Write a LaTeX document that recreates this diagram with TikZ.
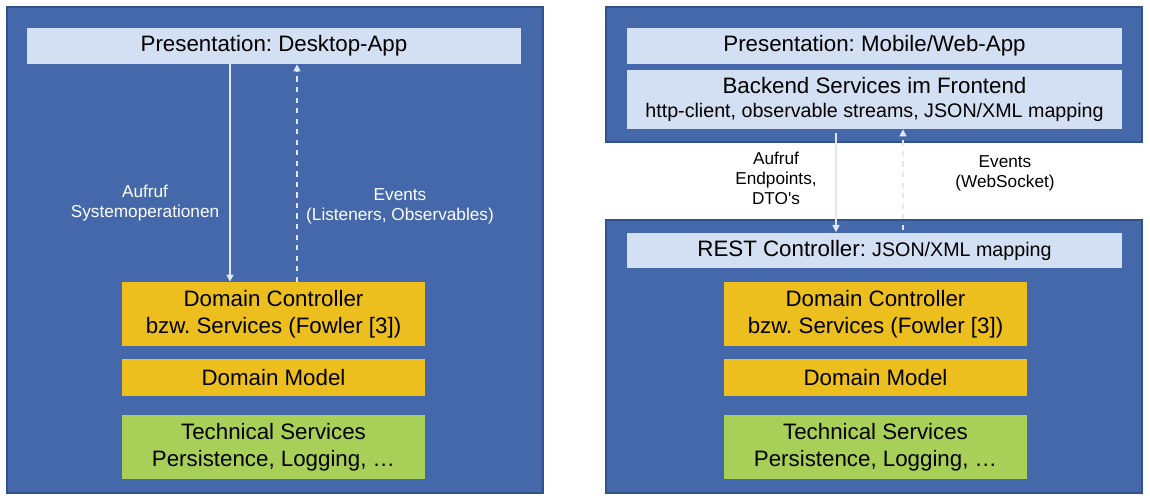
\documentclass[tikz,border=0pt]{standalone}
\usepackage{fontspec}
\setmainfont{Liberation Sans}
\usetikzlibrary{arrows.meta,positioning}

\definecolor{layerblue}{RGB}{68,104,170}
\definecolor{layerborder}{RGB}{50,82,140}
\definecolor{barblue}{RGB}{211,223,242}
\definecolor{domaingold}{RGB}{236,191,30}
\definecolor{techgreen}{RGB}{168,207,88}
\definecolor{arrowwhite}{RGB}{225,232,245}

\begin{document}
\frenchspacing
\begin{tikzpicture}
            [
                x=0.02cm, y=-0.02cm,
                tier/.style={rectangle, draw=layerborder, fill=layerblue, line width=1pt, inner sep=0pt},
                bar/.style={rectangle, fill=barblue, minimum width=9.9cm, inner sep=0pt, align=center, font=\fontsize{12.7}{15.4}\selectfont},
                domainbox/.style={rectangle, fill=domaingold, minimum width=6.06cm, inner sep=0pt, align=center, font=\fontsize{12.7}{15.4}\selectfont},
                techbox/.style={rectangle, fill=techgreen, minimum width=6.06cm, minimum height=1.28cm, inner sep=0pt, align=center, font=\fontsize{12.7}{15.4}\selectfont},
                calltext/.style={align=center, font=\fontsize{9.8}{11.4}\selectfont},
                callarrow/.style={draw=arrowwhite, line width=0.7pt, -{Triangle[length=4pt,width=4pt]}},
            ]

            \useasboundingbox (0,0) rectangle (1150,500);

            %% DESKTOP
            \node[tier, minimum width=10.72cm, minimum height=9.72cm] (desktop) at(275,250) {};
            \node[bar, minimum height=0.72cm] (presdesk) at(274,46) {Presentation: Desktop-App};
            \node[domainbox, minimum height=1.28cm] (ctrldesk) at(273.5,314) {Domain Controller\\bzw. Services (Fowler [3])};
            \node[domainbox, minimum height=0.74cm] (modeldesk) at(273.5,377.5) {Domain Model};
            \node[techbox] (techdesk) at(273.5,447) {Technical Services\\Persistence, Logging, …};

            \coordinate (calldesk) at(230,64);
            \coordinate (eventdesk) at(297,282);
            \draw[callarrow] (calldesk) -- (calldesk |- ctrldesk.north);
            \draw[callarrow, dashed] (eventdesk) -- (eventdesk |- presdesk.south);

            \node[calltext, text=white] (calldesklabel) at(145,203) {Aufruf\\Systemoperationen};
            \node[calltext, text=white] (eventdesklabel) at(400,206) {Events\\(Listeners, Observables)};

            %% MOBILE / WEB
            \node[tier, minimum width=10.72cm, minimum height=2.7cm] (frontend) at(874,74.5) {};
            \node[bar, minimum height=0.72cm] (presweb) at(874.5,46) {Presentation: Mobile/Web-App};
            \node[bar, minimum height=1.18cm] (backfront) at(874.5,99.5) {Backend Services im Frontend\\[-2pt]{\fontsize{11.2}{13}\selectfont http-client, observable streams, JSON/XML mapping}};

            \node[tier, minimum width=10.72cm, minimum height=5.46cm] (backend) at(874,356.5) {};
            \node[bar, minimum height=0.72cm] (rest) at(874.5,250.5) {REST Controller: {\fontsize{11.2}{13}\selectfont JSON/XML mapping}};
            \node[domainbox, minimum height=1.28cm] (ctrlweb) at(875.5,314) {Domain Controller\\bzw. Services (Fowler [3])};
            \node[domainbox, minimum height=0.74cm] (modelweb) at(875.5,377.5) {Domain Model};
            \node[techbox] (techweb) at(875.5,447) {Technical Services\\Persistence, Logging, …};

            \coordinate (callweb) at(836,133);
            \coordinate (eventweb) at(903,230);
            \draw[callarrow] (callweb) -- (callweb |- rest.north);
            \draw[callarrow, dashed] (eventweb) -- (eventweb |- backfront.south);

            \node[calltext] (callweblabel) at(776,178) {Aufruf\\Endpoints,\\DTO\textquotesingle s};
            \node[calltext] (eventweblabel) at(1005,173) {Events\\(WebSocket)};

        \end{tikzpicture}
\end{document}
